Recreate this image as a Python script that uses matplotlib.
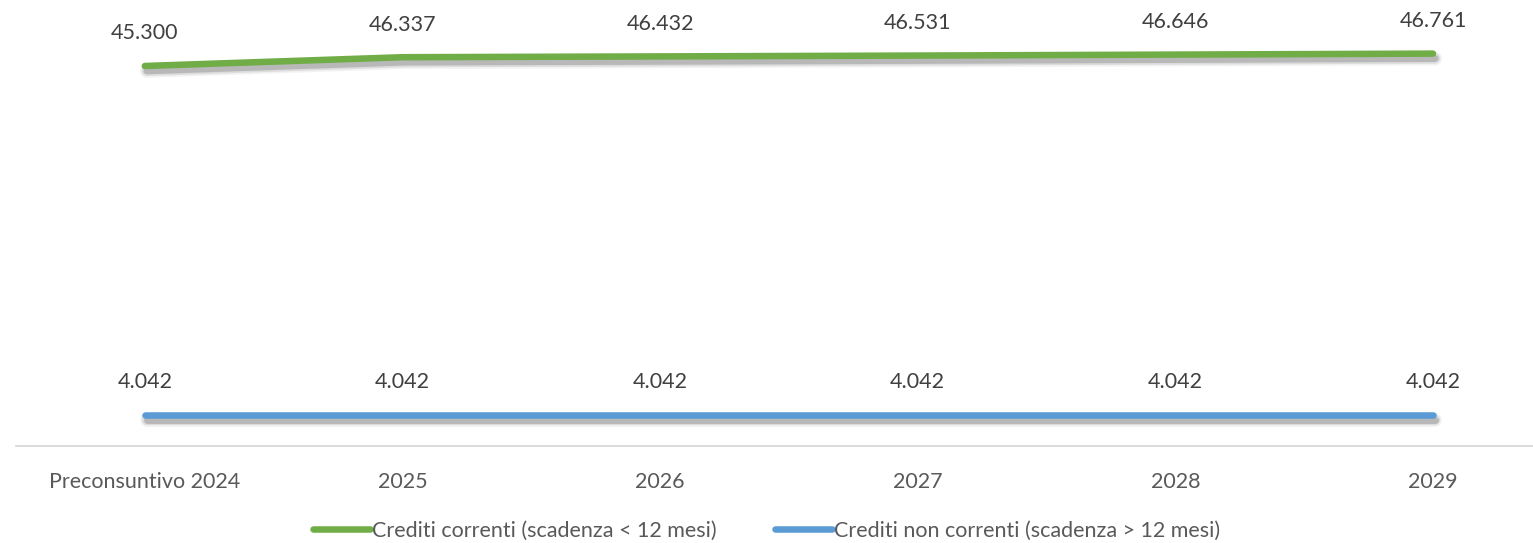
import matplotlib
matplotlib.use("Agg")
import matplotlib.pyplot as plt
import matplotlib.patheffects as pe

categories = ["Preconsuntivo 2024", "2025", "2026", "2027", "2028", "2029"]
correnti = [45300, 46337, 46432, 46531, 46646, 46761]
non_correnti = [4042, 4042, 4042, 4042, 4042, 4042]
labels_correnti = ["45.300", "46.337", "46.432", "46.531", "46.646", "46.761"]
labels_non_correnti = ["4.042"] * 6
series_names = ["Crediti correnti (scadenza < 12 mesi)", "Crediti non correnti (scadenza > 12 mesi)"]

plt.rcParams['font.family'] = ['Lato', 'DejaVu Sans']
W, H = 1533, 543
fig = plt.figure(figsize=(W/100, H/100), dpi=100)
ax = fig.add_axes([16/W, 97/H, (W-16)/W, 446/H])

green = "#70AD47"
blue = "#5B9BD5"
txt = "#404040"
tick_txt = "#595959"
FS = 15.5

x = list(range(len(categories)))
shadow = [
    pe.SimpleLineShadow(offset=(1.5, -3.5), shadow_color="#000000", alpha=0.05, linewidth=10),
    pe.SimpleLineShadow(offset=(1.5, -3.5), shadow_color="#000000", alpha=0.09, linewidth=7.5),
    pe.SimpleLineShadow(offset=(1.5, -3.5), shadow_color="#000000", alpha=0.16, linewidth=5),
    pe.Normal(),
]
l1, = ax.plot(x, correnti, color=green, lw=4.7, solid_capstyle="round", path_effects=shadow)
l2, = ax.plot(x, non_correnti, color=blue, lw=4.7, solid_capstyle="round", path_effects=shadow)

for xi, v, s in zip(x, correnti, labels_correnti):
    ax.annotate(s, (xi, v), xytext=(0, 23.5), textcoords="offset points", ha="center", va="center",
                fontsize=FS, color=txt)
for xi, v, s in zip(x, non_correnti, labels_non_correnti):
    ax.annotate(s, (xi, v), xytext=(0, 23.5), textcoords="offset points", ha="center", va="center",
                fontsize=FS, color=txt)

ax.set_xlim(-0.5, (W - 145) / 257.6)
ax.set_ylim(377, 53100)
ax.set_xticks(x)
ax.set_xticklabels(categories, fontsize=FS, color=tick_txt)
ax.tick_params(axis="x", length=0, pad=19)
ax.set_yticks([])
for s in ["top", "right", "left"]:
    ax.spines[s].set_visible(False)
ax.spines["bottom"].set_color("#D9D9D9")
ax.spines["bottom"].set_linewidth(1.3)
ax.patch.set_alpha(0)

leg = fig.legend([l1, l2], series_names, loc="center", bbox_to_anchor=(0.5, 1 - 531/H), ncol=2,
                 frameon=False, fontsize=FS, handlelength=2.65, handletextpad=0.1, columnspacing=2.7,
                 borderpad=0, borderaxespad=0)
for t in leg.get_texts():
    t.set_color(tick_txt)
for h in leg.legend_handles:
    h.set_path_effects([])
    h.set_linewidth(4.7)

fig.savefig("out.png", dpi=100)
